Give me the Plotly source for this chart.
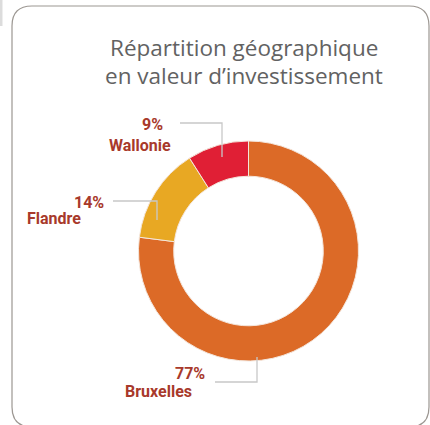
import plotly.graph_objects as go

# Data
regions = ["Bruxelles", "Flandre", "Wallonie"]
shares = [77, 14, 9]
colors = ["#DC6A27", "#E8A823", "#E01F35"]
title_lines = ["Répartition géographique", "en valeur d’investissement"]

W, H = 430, 425
def px(x):
    return x / W
def py(y):
    return 1 - y / H

cx, cy, R = 248.5, 251, 110

fig = go.Figure()
fig.add_trace(go.Pie(
    labels=regions, values=shares, sort=False, direction="clockwise", rotation=0,
    hole=0.68, textinfo="none", hoverinfo="label+percent",
    marker=dict(colors=colors, line=dict(color="#f4e6dc", width=1)),
    domain=dict(x=[px(cx - R), px(cx + R)], y=[py(cy + R), py(cy - R)]),
    showlegend=False,
))

shapes = []
# frame
l, t, r, b, rad = 12, 6, 429, 427, 20
path = (f"M {px(l)},{py(t+rad)} Q {px(l)},{py(t)} {px(l+rad)},{py(t)} "
        f"L {px(r-rad)},{py(t)} Q {px(r)},{py(t)} {px(r)},{py(t+rad)} "
        f"L {px(r)},{py(b-rad)} Q {px(r)},{py(b)} {px(r-rad)},{py(b)} "
        f"L {px(l+rad)},{py(b)} Q {px(l)},{py(b)} {px(l)},{py(b-rad)} Z")
shapes.append(dict(type="path", xref="paper", yref="paper", path=path,
                   line=dict(color="#9c9792", width=1.2), fillcolor="rgba(0,0,0,0)"))
shapes.append(dict(type="rect", xref="paper", yref="paper", x0=px(0), x1=px(2.5),
                   y0=py(26), y1=py(0), line=dict(width=0), fillcolor="#dcdcdc"))

# leader lines (pixel coords)
leaders = [
    [(180, 123), (222, 123), (222, 157)],
    [(113, 201), (157, 201), (157, 220)],
    [(215, 382), (257, 382), (257, 357)],
]
for pts in leaders:
    p = "M " + " L ".join(f"{px(x)},{py(y)}" for x, y in pts)
    shapes.append(dict(type="path", xref="paper", yref="paper", path=p,
                       line=dict(color="#c8c8c8", width=1.3)))

annotations = []
# title
title_font = dict(family="Open Sans", size=22.5, color="#626262")
annotations.append(dict(x=px(244), y=py(47), xref="paper", yref="paper",
                        text=title_lines[0], showarrow=False, xanchor="center", yanchor="middle",
                        font=title_font))
annotations.append(dict(x=px(244), y=py(75), xref="paper", yref="paper",
                        text=title_lines[1], showarrow=False, xanchor="center", yanchor="middle",
                        font=title_font))

lab_font = dict(family="Roboto", size=16, color="#A8392B")
label_pos = {
    "Wallonie": [(165, 124), (173, 145)],
    "Flandre": [(106, 202), (83, 218)],
    "Bruxelles": [(207, 373), (194, 391)],
}
for name, v in zip(regions, shares):
    (x1, y1), (x2, y2) = label_pos[name]
    annotations.append(dict(x=px(x1), y=py(y1), xref="paper", yref="paper",
                            text=f"<b>{v}%</b>", showarrow=False, xanchor="right", yanchor="middle",
                            font=lab_font))
    annotations.append(dict(x=px(x2), y=py(y2), xref="paper", yref="paper",
                            text=f"<b>{name}</b>", showarrow=False, xanchor="right", yanchor="middle",
                            font=lab_font))

fig.update_layout(width=W, height=H, margin=dict(l=0, r=0, t=0, b=0),
                  paper_bgcolor="white", plot_bgcolor="white",
                  shapes=shapes, annotations=annotations)
fig.write_html("out.html", config={"displayModeBar": False},
               post_script="document.body.style.margin='0';")
